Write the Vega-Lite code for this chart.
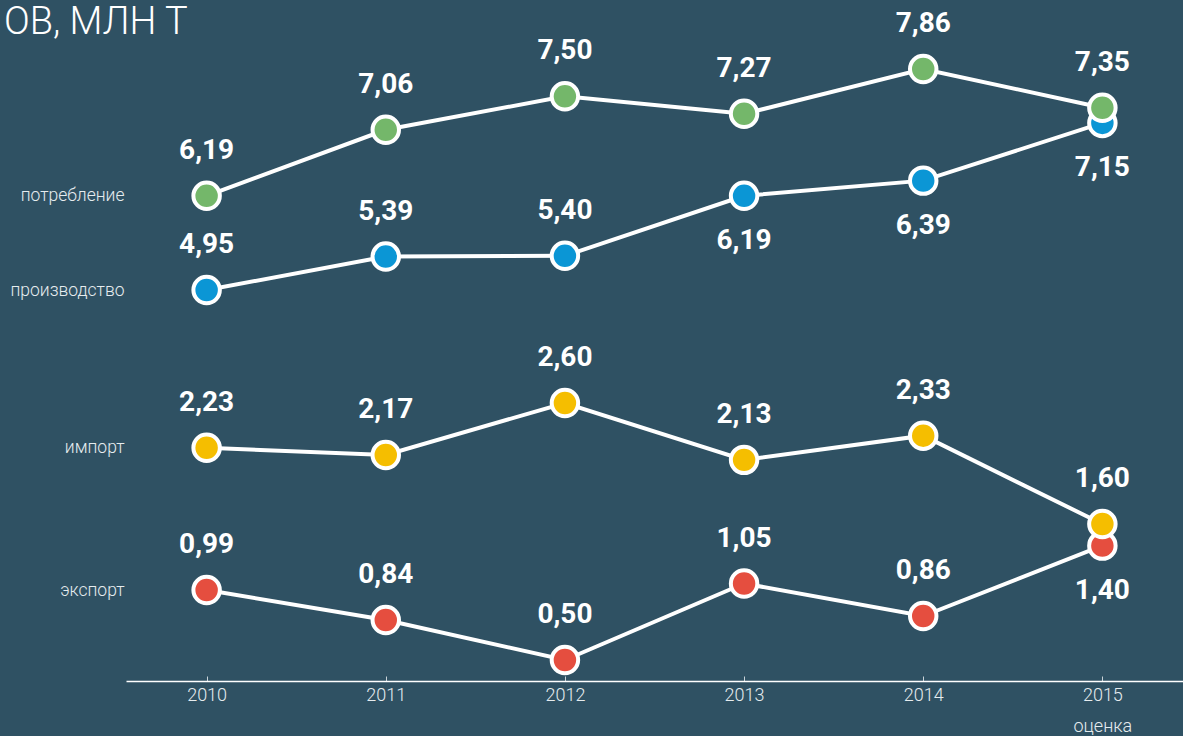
{
  "$schema": "https://vega.github.io/schema/vega-lite/v6.json",
  "autosize": {"type": "none"},
  "padding": {"left": 126, "top": 50, "right": 0, "bottom": 55},
  "width": 1057,
  "height": 631,
  "background": "#2f5163",
  "config": {
    "view": {"stroke": null},
    "locale": {"number": {"decimal": ",", "thousands": " ", "grouping": [3], "currency": ["", ""]}},
    "font": "Roboto"
  },
  "title": {
    "text": "ОВ, МЛН Т",
    "anchor": "start",
    "frame": "group",
    "dx": -122,
    "dy": 36,
    "fontSize": 38,
    "font": "Roboto",
    "fontWeight": 300,
    "color": "#ffffff"
  },
  "data": {
    "values": [
      {"series": "экспорт", "year": "2010", "value": 0.99},
      {"series": "экспорт", "year": "2011", "value": 0.84},
      {"series": "экспорт", "year": "2012", "value": 0.50},
      {"series": "экспорт", "year": "2013", "value": 1.05},
      {"series": "экспорт", "year": "2014", "value": 0.86},
      {"series": "экспорт", "year": "2015", "value": 1.40},
      {"series": "импорт", "year": "2010", "value": 2.23},
      {"series": "импорт", "year": "2011", "value": 2.17},
      {"series": "импорт", "year": "2012", "value": 2.60},
      {"series": "импорт", "year": "2013", "value": 2.13},
      {"series": "импорт", "year": "2014", "value": 2.33},
      {"series": "импорт", "year": "2015", "value": 1.60},
      {"series": "производство", "year": "2010", "value": 4.95},
      {"series": "производство", "year": "2011", "value": 5.39},
      {"series": "производство", "year": "2012", "value": 5.40},
      {"series": "производство", "year": "2013", "value": 6.19},
      {"series": "производство", "year": "2014", "value": 6.39},
      {"series": "производство", "year": "2015", "value": 7.15},
      {"series": "потребление", "year": "2010", "value": 6.19},
      {"series": "потребление", "year": "2011", "value": 7.06},
      {"series": "потребление", "year": "2012", "value": 7.50},
      {"series": "потребление", "year": "2013", "value": 7.27},
      {"series": "потребление", "year": "2014", "value": 7.86},
      {"series": "потребление", "year": "2015", "value": 7.35}
    ]
  },
  "encoding": {
    "x": {
      "field": "year",
      "type": "ordinal",
      "scale": {"type": "point", "padding": 0.45},
      "axis": {
        "title": null,
        "labelAngle": 0,
        "domainColor": "#ffffff",
        "domainWidth": 1.5,
        "tickColor": "#c8d2d8",
        "tickSize": -5,
        "labelColor": "#e6ecef",
        "labelFont": "Roboto",
        "labelFontWeight": 300,
        "labelFontSize": 18,
        "labelPadding": 10,
        "labelLineHeight": 31,
        "labelExpr": "datum.value == '2015' ? ['2015', 'оценка'] : datum.value"
      }
    },
    "y": {
      "field": "value",
      "type": "quantitative",
      "scale": {
        "domain": [0.5, 0.84, 0.99, 1.6, 2.6, 4.95, 7.86],
        "range": [610, 570, 540, 474, 353, 240, 19],
        "zero": false,
        "nice": false
      },
      "axis": {
        "title": null,
        "domain": false,
        "ticks": false,
        "grid": false,
        "values": [0.99, 2.23, 4.95, 6.19],
        "labelPadding": 2,
        "labelColor": "#e6ecef",
        "labelFont": "Roboto",
        "labelFontWeight": 300,
        "labelFontSize": 17.5,
        "labelExpr": "datum.value == 6.19 ? 'потребление' : datum.value == 4.95 ? 'производство' : datum.value == 2.23 ? 'импорт' : 'экспорт'"
      }
    }
  },
  "layer": [
    {
      "mark": {"type": "line", "color": "#ffffff", "strokeWidth": 4},
      "encoding": {"detail": {"field": "series"}}
    },
    {
      "mark": {"type": "point", "shape": "circle", "filled": true, "size": 700, "stroke": "#ffffff", "strokeWidth": 4, "opacity": 1},
      "encoding": {
        "fill": {
          "field": "series",
          "type": "nominal",
          "scale": {
            "domain": ["потребление", "производство", "импорт", "экспорт"],
            "range": ["#74b76a", "#0b96d5", "#f5be00", "#e54e3f"]
          },
          "legend": null
        }
      }
    },
    {
      "transform": [{"filter": "!((datum.series == 'производство' && datum.year >= '2013') || (datum.series == 'экспорт' && datum.year == '2015'))"}],
      "mark": {"type": "text", "dy": -45, "font": "Roboto", "fontWeight": "bold", "fontSize": 28, "color": "#ffffff"},
      "encoding": {"text": {"field": "value", "type": "quantitative", "format": ".2f"}}
    },
    {
      "transform": [{"filter": "(datum.series == 'производство' && datum.year >= '2013') || (datum.series == 'экспорт' && datum.year == '2015')"}],
      "mark": {"type": "text", "dy": 45, "font": "Roboto", "fontWeight": "bold", "fontSize": 28, "color": "#ffffff"},
      "encoding": {"text": {"field": "value", "type": "quantitative", "format": ".2f"}}
    }
  ]
}
